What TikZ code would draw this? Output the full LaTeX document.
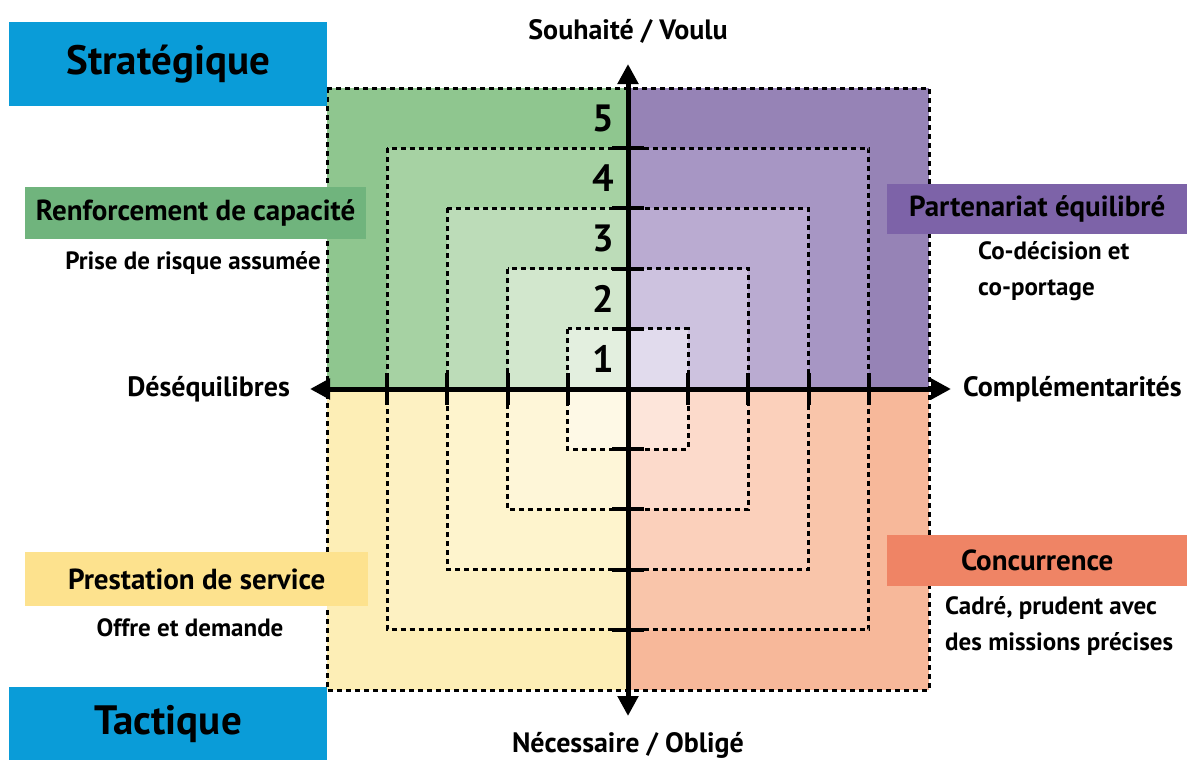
\documentclass[tikz,border=0pt]{standalone}
\usepackage{fontspec}
\setmainfont{PT Sans}
\usetikzlibrary{positioning, arrows.meta}

\definecolor{catblue}{HTML}{0A9CD8}
\definecolor{boxgreen}{HTML}{70B47D}
\definecolor{boxpurple}{HTML}{7D63A8}
\definecolor{boxyellow}{HTML}{FDE28E}
\definecolor{boxorange}{HTML}{EF8465}
% quadrant shades, outer (5) to inner (1)
\definecolor{green5}{HTML}{8FC68F}
\definecolor{green4}{HTML}{A6D2A3}
\definecolor{green3}{HTML}{BCDCB8}
\definecolor{green2}{HTML}{D2E7CD}
\definecolor{green1}{HTML}{E3EFDF}
\definecolor{purple5}{HTML}{9683B6}
\definecolor{purple4}{HTML}{A796C4}
\definecolor{purple3}{HTML}{BAABD1}
\definecolor{purple2}{HTML}{CDC2DF}
\definecolor{purple1}{HTML}{E1DBED}
\definecolor{yellow5}{HTML}{FDEEB6}
\definecolor{yellow4}{HTML}{FDF1C2}
\definecolor{yellow3}{HTML}{FEF4CD}
\definecolor{yellow2}{HTML}{FEF6D8}
\definecolor{yellow1}{HTML}{FEF9E6}
\definecolor{orange5}{HTML}{F7B89A}
\definecolor{orange4}{HTML}{F9C5AA}
\definecolor{orange3}{HTML}{FBD0BB}
\definecolor{orange2}{HTML}{FCDACB}
\definecolor{orange1}{HTML}{FDE5DA}

\begin{document}
\begin{tikzpicture}[x=1pt, y=-1pt,
	catbox/.style={fill=catblue, anchor=north west, minimum width=318pt, inner sep=0pt,
		font=\fontsize{41}{44}\selectfont\bfseries},
	quadbox/.style={anchor=north west, minimum width=300pt, inner sep=0pt,
		font=\fontsize{29}{32}\selectfont\bfseries},
	subtext/.style={font=\fontsize{25}{36}\selectfont\bfseries, inner sep=0pt},
	axislabel/.style={font=\fontsize{28}{30}\selectfont\bfseries, inner sep=0pt},
	numlabel/.style={font=\fontsize{38}{40}\selectfont\bfseries, inner sep=0pt},
	levelline/.style={line width=3pt, dash pattern=on 5pt off 4pt},
	tickline/.style={line width=4pt},
	axisline/.style={line width=5pt, {Triangle[length=20pt,width=20pt]}-{Triangle[length=20pt,width=20pt]}}]

	\useasboundingbox (0,0) rectangle (1194,760);
	\fill[white] (0,0) rectangle (1194,760);

	\coordinate (o) at (628,389);

	% nested levels, one shade per quadrant
	\foreach \l/\cg/\cp/\cy/\co in {5/green5/purple5/yellow5/orange5, 4/green4/purple4/yellow4/orange4,
			3/green3/purple3/yellow3/orange3, 2/green2/purple2/yellow2/orange2, 1/green1/purple1/yellow1/orange1}{
		\fill[\cg] (o) rectangle +({-60.2*\l},{-60.2*\l});
		\fill[\cp] (o) rectangle +({60.2*\l},{-60.2*\l});
		\fill[\cy] (o) rectangle +({-60.2*\l},{60.2*\l});
		\fill[\co] (o) rectangle +({60.2*\l},{60.2*\l});
	}
	\foreach \l in {1,...,5}
		\draw[levelline] (o) ++({-60.2*\l},{-60.2*\l}) rectangle ++({120.4*\l},{120.4*\l});

	% ticks on the axes
	\foreach \l in {1,...,4}{
		\draw[tickline] (o) ++(-16,{-60.2*\l}) -- ++(32,0);
		\draw[tickline] (o) ++(-16,{60.2*\l}) -- ++(32,0);
		\draw[tickline] (o) ++({-60.2*\l},-16) -- ++(0,32);
		\draw[tickline] (o) ++({60.2*\l},-16) -- ++(0,32);
	}
	\foreach \l in {1,...,5}
		\path (o) ++(-25,{-60.2*(\l-0.5)}) node[numlabel] (n\l) {\l};

	% axes
	\coordinate (axW) at (310,389);
	\coordinate (axE) at (951,389);
	\coordinate (axN) at (628,64);
	\coordinate (axS) at (628,716);
	\draw[axisline] (axW) -- (axE);
	\draw[axisline] (axS) -- (axN);

	\node[axislabel, left=20pt of axW] (deseq) {Déséquilibres};
	\node[axislabel, right=12pt of axE] (compl) {Complémentarités};
	\node[axislabel, above=20pt of axN] (voulu) {Souhaité / Voulu};
	\node[axislabel, below=16pt of axS] (oblige) {Nécessaire / Obligé};

	% categories
	\node[catbox, minimum height=84pt] (strat) at (9,22) {Stratégique};
	\node[catbox, minimum height=73pt] (tact) at (9,687) {Tactique};

	\node[quadbox, fill=boxgreen, minimum width=341pt, minimum height=52pt] (renf) at (25,187) {Renforcement de capacité};
	\node[subtext] (renfsub) at (193,263) {Prise de risque assumée};

	\node[quadbox, fill=boxpurple, minimum height=50pt] (part) at (887,184) {Partenariat équilibré};
	\node[subtext, anchor=west, align=left] (partsub) at (978,271) {Co-décision et\\co-portage};

	\node[quadbox, fill=boxyellow, minimum width=343pt, minimum height=54pt] (prest) at (25,552) {Prestation de service};
	\node[subtext] (prestsub) at (190,628) {Offre et demande};

	\node[quadbox, fill=boxorange, minimum height=51pt] (conc) at (887,535) {Concurrence};
	\node[subtext, anchor=west, align=left] (concsub) at (945,626) {Cadré, prudent avec\\des missions précises};
\end{tikzpicture}
\end{document}
